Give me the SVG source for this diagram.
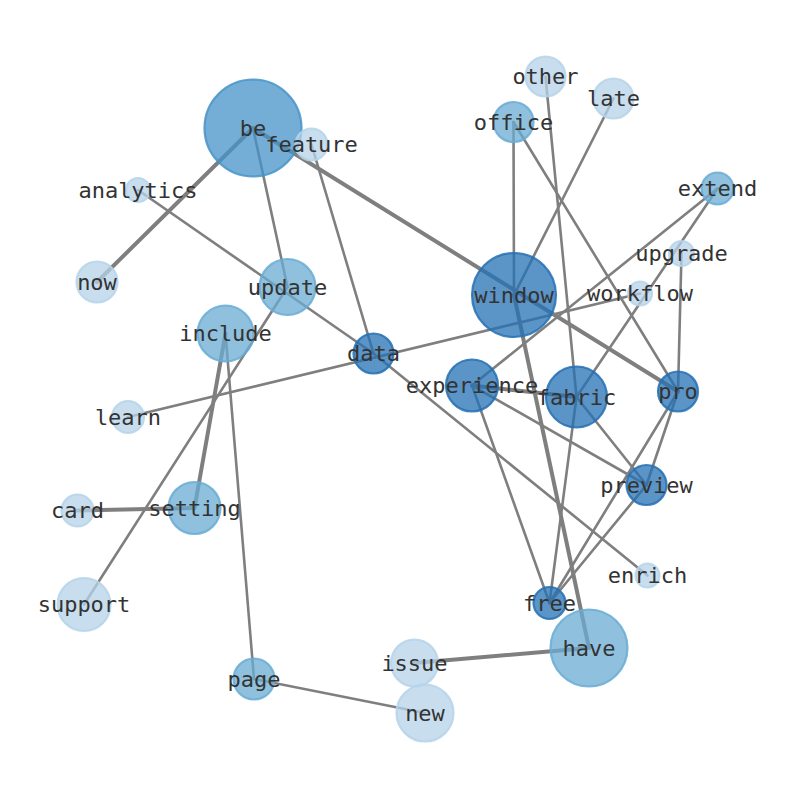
<svg xmlns="http://www.w3.org/2000/svg" width="794" height="790" viewBox="0 0 794 790">
<style>
.e{stroke:#7f7f7f;stroke-linecap:round;fill:none}
.t{stroke-width:2.6}
.k{stroke-width:4}
.n circle{stroke-width:2.2;fill-opacity:0.75;stroke-opacity:0.85}
.d circle{fill:#2470b4;stroke:#2470b4}
.b circle{fill:#4593c8;stroke:#4593c8}
.m circle{fill:#69acd4;stroke:#69acd4}
.l circle{fill:#b5d3e9;stroke:#b5d3e9}
.n text{font-family:"DejaVu Sans Mono",monospace;font-size:22px;fill:#333;text-anchor:middle;dominant-baseline:central}
</style>
<rect width="794" height="790" fill="#fff"/>
<g id="edges">
<line class="e k" x1="253" y1="128" x2="97" y2="282"/>
<line class="e t" x1="253" y1="128" x2="287.5" y2="287"/>
<line class="e k" x1="253" y1="128" x2="678" y2="391.5"/>
<line class="e t" x1="138" y1="190" x2="373.5" y2="353.5"/>
<line class="e t" x1="311.5" y1="144.5" x2="373.5" y2="353.5"/>
<line class="e t" x1="287.5" y1="287" x2="84" y2="604.5"/>
<line class="e k" x1="225.5" y1="333.5" x2="194.5" y2="508"/>
<line class="e t" x1="225.5" y1="333.5" x2="254" y2="679"/>
<line class="e k" x1="77.5" y1="510.5" x2="194.5" y2="508"/>
<line class="e t" x1="128" y1="417" x2="640" y2="293.5"/>
<line class="e t" x1="373.5" y1="353.5" x2="647.5" y2="575.5"/>
<line class="e t" x1="514" y1="295" x2="513.5" y2="122"/>
<line class="e t" x1="514" y1="295" x2="613.5" y2="98.5"/>
<line class="e k" x1="514" y1="295" x2="589" y2="648"/>
<line class="e t" x1="545.5" y1="76.5" x2="576.5" y2="397"/>
<line class="e t" x1="513.5" y1="122" x2="678" y2="391.5"/>
<line class="e t" x1="717.5" y1="188.5" x2="472" y2="385.5"/>
<line class="e t" x1="717.5" y1="188.5" x2="576.5" y2="397"/>
<line class="e t" x1="681.5" y1="253.5" x2="678" y2="391.5"/>
<line class="e k" x1="472" y1="385.5" x2="576.5" y2="397"/>
<line class="e t" x1="472" y1="385.5" x2="646.5" y2="485"/>
<line class="e t" x1="472" y1="385.5" x2="549.5" y2="603"/>
<line class="e t" x1="576.5" y1="397" x2="646.5" y2="485"/>
<line class="e t" x1="576.5" y1="397" x2="549.5" y2="603"/>
<line class="e t" x1="678" y1="391.5" x2="549.5" y2="603"/>
<line class="e t" x1="678" y1="391.5" x2="646.5" y2="485"/>
<line class="e t" x1="646.5" y1="485" x2="549.5" y2="603"/>
<line class="e k" x1="589" y1="648" x2="414.5" y2="663"/>
<line class="e t" x1="254" y1="679" x2="425" y2="713"/>
</g>
<g id="node-be" class="n b"><circle cx="253" cy="128" r="48.5"/><text x="253" y="128">be</text></g>
<g id="node-feature" class="n l"><circle cx="311.5" cy="144.5" r="16"/><text x="311.5" y="144.5">feature</text></g>
<g id="node-analytics" class="n l"><circle cx="138" cy="190" r="12"/><text x="138" y="190">analytics</text></g>
<g id="node-now" class="n l"><circle cx="97" cy="282" r="20.5"/><text x="97" y="282">now</text></g>
<g id="node-update" class="n m"><circle cx="287.5" cy="287" r="28"/><text x="287.5" y="287">update</text></g>
<g id="node-include" class="n m"><circle cx="225.5" cy="333.5" r="28"/><text x="225.5" y="333.5">include</text></g>
<g id="node-data" class="n d"><circle cx="373.5" cy="353.5" r="20"/><text x="373.5" y="353.5">data</text></g>
<g id="node-learn" class="n l"><circle cx="128" cy="417" r="16"/><text x="128" y="417">learn</text></g>
<g id="node-card" class="n l"><circle cx="77.5" cy="510.5" r="16"/><text x="77.5" y="510.5">card</text></g>
<g id="node-setting" class="n m"><circle cx="194.5" cy="508" r="26"/><text x="194.5" y="508">setting</text></g>
<g id="node-support" class="n l"><circle cx="84" cy="604.5" r="26.5"/><text x="84" y="604.5">support</text></g>
<g id="node-page" class="n m"><circle cx="254" cy="679" r="20.5"/><text x="254" y="679">page</text></g>
<g id="node-issue" class="n l"><circle cx="414.5" cy="663" r="23.5"/><text x="414.5" y="663">issue</text></g>
<g id="node-new" class="n l"><circle cx="425" cy="713" r="28.5"/><text x="425" y="713">new</text></g>
<g id="node-have" class="n m"><circle cx="589" cy="648" r="38.5"/><text x="589" y="648">have</text></g>
<g id="node-free" class="n d"><circle cx="549.5" cy="603" r="16"/><text x="549.5" y="603">free</text></g>
<g id="node-enrich" class="n l"><circle cx="647.5" cy="575.5" r="12"/><text x="647.5" y="575.5">enrich</text></g>
<g id="node-preview" class="n d"><circle cx="646.5" cy="485" r="20"/><text x="646.5" y="485">preview</text></g>
<g id="node-pro" class="n d"><circle cx="678" cy="391.5" r="20"/><text x="678" y="391.5">pro</text></g>
<g id="node-fabric" class="n d"><circle cx="576.5" cy="397" r="30.5"/><text x="576.5" y="397">fabric</text></g>
<g id="node-experience" class="n d"><circle cx="472" cy="385.5" r="26"/><text x="472" y="385.5">experience</text></g>
<g id="node-window" class="n d"><circle cx="514" cy="295" r="42"/><text x="514" y="295">window</text></g>
<g id="node-workflow" class="n l"><circle cx="640" cy="293.5" r="12"/><text x="640" y="293.5">workflow</text></g>
<g id="node-upgrade" class="n l"><circle cx="681.5" cy="253.5" r="12.5"/><text x="681.5" y="253.5">upgrade</text></g>
<g id="node-extend" class="n m"><circle cx="717.5" cy="188.5" r="16"/><text x="717.5" y="188.5">extend</text></g>
<g id="node-office" class="n m"><circle cx="513.5" cy="122" r="20"/><text x="513.5" y="122">office</text></g>
<g id="node-other" class="n l"><circle cx="545.5" cy="76.5" r="20"/><text x="545.5" y="76.5">other</text></g>
<g id="node-late" class="n l"><circle cx="613.5" cy="98.5" r="20"/><text x="613.5" y="98.5">late</text></g>
</svg>
